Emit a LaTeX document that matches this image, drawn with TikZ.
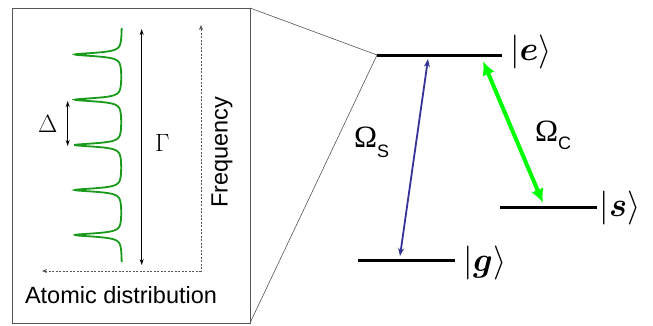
\RequirePackage{fix-cm}
\documentclass[tikz,border=0pt]{standalone}
\usepackage{amsmath,amssymb}
\usepackage{fontspec}
\setmainfont{Liberation Sans}
\newfontfamily\greekserif{Liberation Serif}
\usetikzlibrary{arrows.meta,positioning}
\definecolor{probeBlue}{HTML}{333399}
\definecolor{couplGreen}{HTML}{00FF00}
\definecolor{atomGreen}{HTML}{1A9A1A}
\definecolor{frameGray}{HTML}{555555}

\begin{document}
\begin{tikzpicture}[
    x=1pt, y=-1pt,
    lvl/.style={line width=3pt},
    ket/.style={font=\fontsize{34}{34}\selectfont, inner sep=0pt},
    rabi/.style={font=\fontsize{31}{31}\selectfont, inner sep=0pt, anchor=base west},
    sans/.style={font=\fontsize{23.5}{24}\selectfont, inner sep=0pt},
    spanarrow/.style={{Stealth[length=6pt,width=4pt]}-{Stealth[length=6pt,width=4pt]}, line width=1.2pt},
    zoomline/.style={draw=frameGray, line width=0.6pt},
    declare function={lor(\t,\c)=1/(1+((\t-\c)/2)^2);}
]
    \useasboundingbox (0,0) rectangle (653,325);

    % Inset box
    \draw[frameGray, line width=1pt] (12,8) rectangle (250,323);
    \coordinate (boxNE) at (250,8);
    \coordinate (boxSE) at (250,323);

    % Atomic distribution (comb)
    \draw[atomGreen, line width=1.8pt] plot[domain=28:262, samples=700, variable=\t]
        ({122-47*(lor(\t,54.5)+lor(\t,99.7)+lor(\t,145)+lor(\t,190)+lor(\t,235))}, \t);

    % Spacing and width
    \coordinate (dTop) at (67.7,101);
    \coordinate (dBot) at (67.7,146);
    \draw[spanarrow] (dTop) -- (dBot);
    \node[font=\fontsize{25}{25}\selectfont, inner sep=0pt, anchor=base west] (delta) at (38,132) {$\Delta$};
    \coordinate (gTop) at (141.7,29);
    \coordinate (gBot) at (141.7,265);
    \draw[spanarrow] (gTop) -- (gBot);
    \node[font=\fontsize{25}{25}\selectfont, inner sep=0pt, anchor=base west] (gamma) at (155,151) {$\Gamma$};

    % Axes
    \coordinate (axLeft) at (42,271);
    \coordinate (axCorner) at (201,271);
    \coordinate (axTop) at (201,25);
    \draw[frameGray, line width=0.7pt, dash pattern=on 2pt off 1.5pt,
          {Stealth[length=5pt,width=4pt]}-{Stealth[length=5pt,width=4pt]}]
        (axLeft) -- (axCorner) -- (axTop);
    \node[sans, rotate=90] (freq) at (222,152) {Frequency};
    \node[sans, anchor=base] (atomic) at (121,303) {Atomic distribution};

    % Levels
    \coordinate (eL) at (377,55);
    \coordinate (eR) at (502,55);
    \coordinate (sL) at (500,207);
    \coordinate (sR) at (597,207);
    \coordinate (gL) at (358,260);
    \coordinate (gR) at (455,260);
    \draw[lvl] (eL) -- (eR);
    \draw[lvl] (sL) -- (sR);
    \draw[lvl] (gL) -- (gR);
    \node[ket] (ketE) at (531,52) {$\lvert\boldsymbol{e}\rangle$};
    \node[ket] (ketS) at (620,208) {$\lvert\boldsymbol{s}\rangle$};
    \node[ket] (ketG) at (485,263) {$\lvert\boldsymbol{g}\rangle$};

    % Zoom lines
    \draw[zoomline] (boxNE) -- (eL);
    \draw[zoomline] (boxSE) -- (eL);

    % Couplings
    \coordinate (probeTop) at (428,59);
    \coordinate (probeBot) at (400,256);
    \draw[probeBlue, line width=1.8pt, {Stealth[length=8pt,width=6pt]}-{Stealth[length=8pt,width=6pt]}]
        (probeTop) -- (probeBot);
    \coordinate (coupTop) at (483,61);
    \coordinate (coupBot) at (543,203);
    \draw[couplGreen, line width=4pt, {Latex[length=14pt,width=13pt]}-{Latex[length=14pt,width=13pt]}]
        (coupTop) -- (coupBot);
    \node[rabi] (omegaS) at (354,147) {{\greekserif Ω}\raisebox{-10pt}{\fontsize{18}{18}\selectfont S}};
    \node[rabi] (omegaC) at (535,141) {{\greekserif Ω}\raisebox{-8pt}{\fontsize{18}{18}\selectfont C}};
\end{tikzpicture}
\end{document}
